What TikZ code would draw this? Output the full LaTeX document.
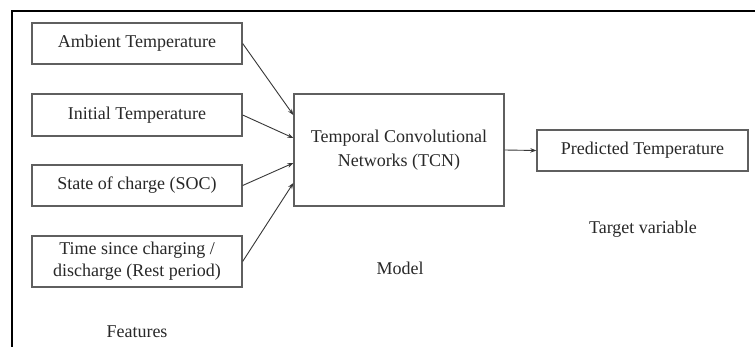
\documentclass[tikz,border=0pt]{standalone}
\usepackage{fontspec}
\setmainfont{Liberation Serif}
\usetikzlibrary{arrows.meta,calc}
\definecolor{boxline}{RGB}{95,95,95}
\definecolor{txt}{RGB}{40,40,40}
\definecolor{arr}{RGB}{55,55,55}
\begin{document}
\begin{tikzpicture}[x=1pt,y=-1pt,
  box/.style={draw=boxline,line width=1.3pt,inner sep=0pt,align=center,text=txt,
    font=\fontsize{18}{22}\selectfont},
  lbl/.style={inner sep=0pt,text=txt,font=\fontsize{18}{22}\selectfont},
  conn/.style={draw=arr,line width=0.9pt,-{Stealth[length=6pt,width=4.5pt]}}]
\useasboundingbox (0,0) rectangle (755,347);
\fill[white] (0,0) rectangle (755,347);
\draw[black,line width=2pt] (755,11) -- (12,11) -- (12,347);
\node[box,minimum width=210pt,minimum height=41pt] (amb) at (137,43.5) {Ambient Temperature};
\node[box,minimum width=210pt,minimum height=42pt] (ini) at (137,115) {Initial Temperature};
\node[box,minimum width=210pt,minimum height=41pt] (soc) at (137,185.5) {State of charge (SOC)};
\node[box,minimum width=210pt,minimum height=51pt] (tim) at (137,261.5) {Time since charging /\\discharge (Rest period)};
\node[box,minimum width=210pt,minimum height=112pt,font=\fontsize{18}{24}\selectfont] (tcn) at (399,150) {Temporal Convolutional\\Networks (TCN)};
\node[box,minimum width=211pt,minimum height=41pt] (pred) at (642.5,150.5) {Predicted Temperature};
\node[lbl] (feat) at (137,332) {Features};
\node[lbl] (model) at (400,268) {Model};
\node[lbl] (target) at (643,229) {Target variable};
\coordinate (t1) at ($(tcn.west)+(0,-35)$);
\coordinate (t2) at ($(tcn.west)+(0,-12)$);
\coordinate (t3) at ($(tcn.west)+(0,13)$);
\coordinate (t4) at ($(tcn.west)+(0,33)$);
\draw[conn] (amb.east) -- (t1);
\draw[conn] (ini.east) -- (t2);
\draw[conn] (soc.east) -- (t3);
\draw[conn] (tim.east) -- (t4);
\draw[conn] (tcn.east) -- (pred.west);
\end{tikzpicture}
\end{document}
